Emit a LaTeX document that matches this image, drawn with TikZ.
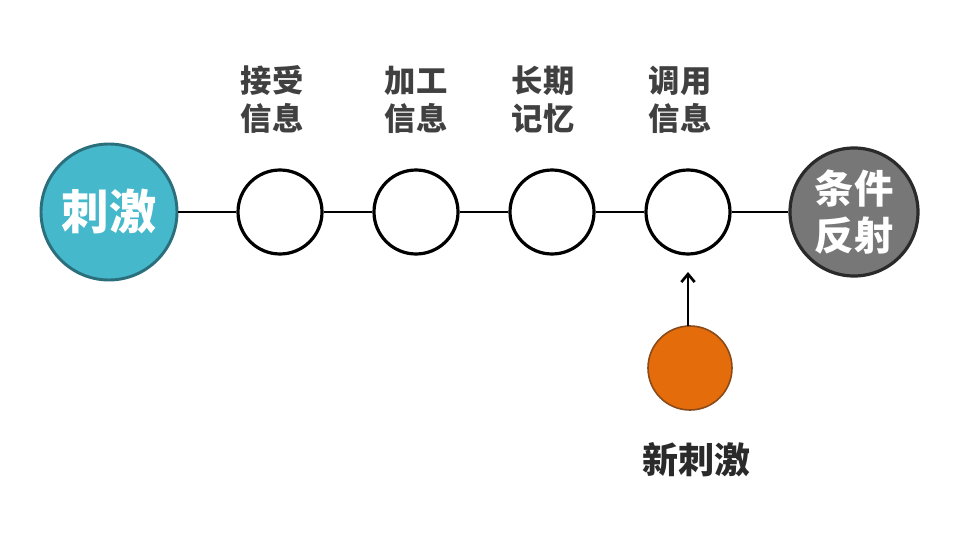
\documentclass[tikz,border=0pt]{standalone}
\usepackage{fontspec}
\newfontfamily\cjk{Noto Sans CJK SC}
\usetikzlibrary{arrows.meta}
\definecolor{teal1}{HTML}{45B8CB}
\definecolor{teal2}{HTML}{2B6E7C}
\definecolor{gray1}{HTML}{777777}
\definecolor{gray2}{HTML}{2A2A2A}
\definecolor{orange1}{HTML}{E46C0A}
\definecolor{orange2}{HTML}{8A4A1A}
\definecolor{txt}{HTML}{404040}
\tikzset{
  stage/.style={circle, draw=black, line width=2.4pt, fill=white, minimum size=63pt, inner sep=0pt},
  lbl/.style={font=\cjk\bfseries\fontsize{23.5}{28.5}\selectfont, text=txt, align=center},
  conn/.style={line width=2.1pt, draw=black}
}
\begin{document}
\begin{tikzpicture}[x=0.75pt,y=-0.75pt]
\useasboundingbox (0,0) rectangle (960,535);
\node[circle, draw=teal2, line width=2.2pt, fill=teal1, minimum size=102pt, inner sep=0pt,
      font=\cjk\bfseries\fontsize{35.5}{40}\selectfont, text=white] (s) at (109,212) {刺激};
\node[stage] (a) at (280,212) {};
\node[stage] (b) at (416,212) {};
\node[stage] (c) at (552,212) {};
\node[stage] (d) at (688,212) {};
\node[circle, draw=gray2, line width=2.4pt, fill=gray1, minimum size=96pt, inner sep=0pt,
      font=\cjk\bfseries\fontsize{29.5}{35}\selectfont, text=white, align=center] (r) at (854,212) {条件\\反射};
\node[circle, draw=orange2, line width=1.2pt, fill=orange1, minimum size=63pt, inner sep=0pt] (n) at (690,368) {};
\node[lbl] (la) at (272,100) {接受\\信息};
\node[lbl] (lb) at (416,100) {加工\\信息};
\node[lbl] (lc) at (543,100) {长期\\记忆};
\node[lbl] (ld) at (680,100) {调用\\信息};
\node[font=\cjk\bfseries\fontsize{27}{30}\selectfont, text=gray2] (nl) at (696,460) {新刺激};
\draw[conn] (s) -- (a);
\draw[conn] (a) -- (b);
\draw[conn] (b) -- (c);
\draw[conn] (c) -- (d);
\draw[conn] (d) -- (r);
\coordinate (tip) at (688,272);
\draw[line width=2pt, -{Straight Barb[length=6pt,width=10pt]}] (688,326) -- (tip);
\end{tikzpicture}
\end{document}
